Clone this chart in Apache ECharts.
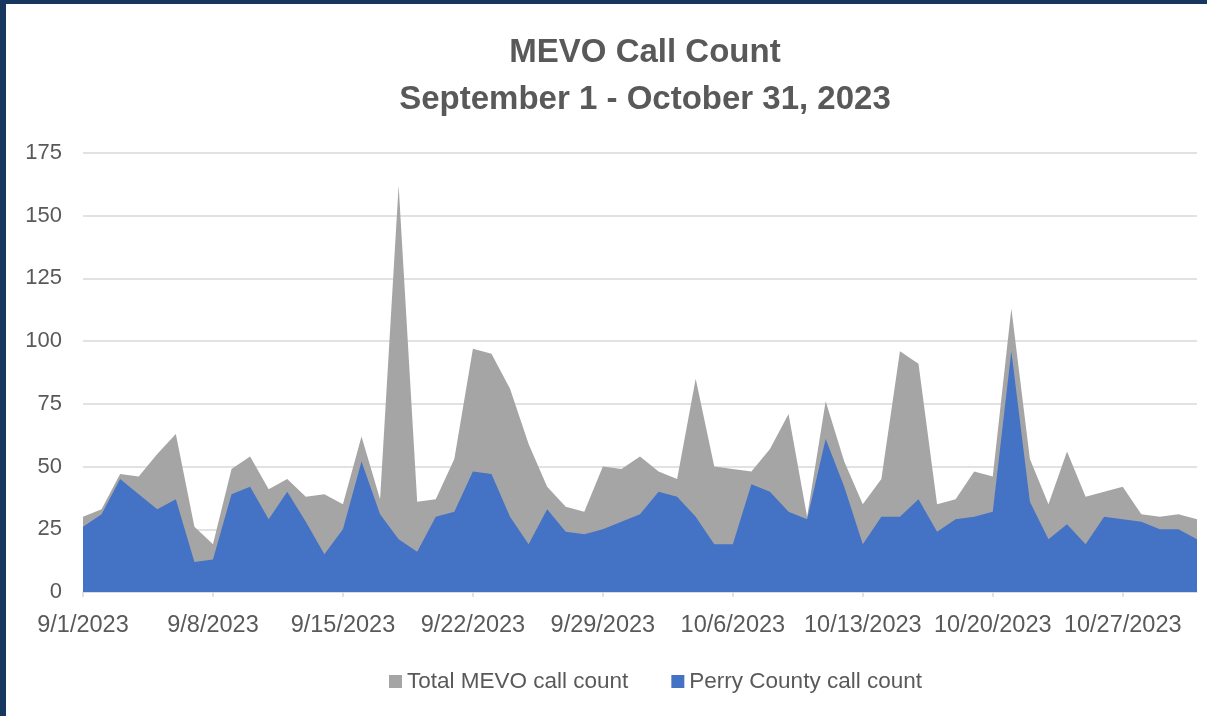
<!DOCTYPE html>
<html>
<head>
<meta charset="utf-8">
<title>MEVO Call Count</title>
<script src="https://cdn.jsdelivr.net/npm/echarts@6/dist/echarts.min.js"></script>
<style>
  html, body { margin: 0; padding: 0; background: #17375e; }
  #chart { position: absolute; left: 6px; top: 4px; width: 1201px; height: 712px; background: #fff; }
</style>
</head>
<body>
<div id="chart"></div>
<script>
// one label per day, 9/1 to 10/31
const dates = [
  '9/1/2023', '9/2/2023', '9/3/2023', '9/4/2023', '9/5/2023', '9/6/2023', '9/7/2023',
  '9/8/2023', '9/9/2023', '9/10/2023', '9/11/2023', '9/12/2023', '9/13/2023', '9/14/2023',
  '9/15/2023', '9/16/2023', '9/17/2023', '9/18/2023', '9/19/2023', '9/20/2023', '9/21/2023',
  '9/22/2023', '9/23/2023', '9/24/2023', '9/25/2023', '9/26/2023', '9/27/2023', '9/28/2023',
  '9/29/2023', '9/30/2023', '10/1/2023', '10/2/2023', '10/3/2023', '10/4/2023', '10/5/2023',
  '10/6/2023', '10/7/2023', '10/8/2023', '10/9/2023', '10/10/2023', '10/11/2023', '10/12/2023',
  '10/13/2023', '10/14/2023', '10/15/2023', '10/16/2023', '10/17/2023', '10/18/2023', '10/19/2023',
  '10/20/2023', '10/21/2023', '10/22/2023', '10/23/2023', '10/24/2023', '10/25/2023', '10/26/2023',
  '10/27/2023', '10/28/2023', '10/29/2023', '10/30/2023', '10/31/2023'
];

const totalCalls = [
  30, 33, 47, 46, 55, 63, 26, 19, 49, 54, 41, 45, 38, 39, 35, 62, 37, 162, 36, 37,
  53, 97, 95, 81, 59, 42, 34, 32, 50, 49, 54, 48, 45, 85, 50, 49, 48, 57, 71, 30,
  76, 52, 35, 45, 96, 91, 35, 37, 48, 46, 113, 53, 35, 56, 38, 40, 42, 31, 30, 31, 29
];

const perryCalls = [
  26, 31, 45, 39, 33, 37, 12, 13, 39, 42, 29, 40, 28, 15, 25, 52, 31, 21, 16, 30,
  32, 48, 47, 30, 19, 33, 24, 23, 25, 28, 31, 40, 38, 30, 19, 19, 43, 40, 32, 29,
  61, 42, 19, 30, 30, 37, 24, 29, 30, 32, 96, 36, 21, 27, 19, 30, 29, 28, 25, 25, 21
];

const yTicks = { min: 0, max: 175, step: 25 };

const textColor = '#595959';
const font = 'Liberation Sans, Arial, sans-serif';

const chart = echarts.init(document.getElementById('chart'), null, { renderer: 'canvas' });

function areaSeries(name, values, color) {
  return {
    name,
    type: 'line',
    data: values,
    showSymbol: false,
    symbol: 'none',
    lineStyle: { width: 0 },
    areaStyle: { color, opacity: 1 },
    itemStyle: { color },
    animation: false
  };
}

chart.setOption({
  backgroundColor: '#fff',
  textStyle: { fontFamily: font },
  title: {
    text: 'MEVO Call Count\nSeptember 1 - October 31, 2023',
    left: 634,
    top: 20,
    textAlign: 'center',
    textStyle: {
      fontFamily: font,
      fontSize: 33,
      fontWeight: 'bold',
      color: textColor,
      lineHeight: 47
    }
  },
  legend: {
    data: ['Total MEVO call count', 'Perry County call count'],
    top: 661,
    left: 378,
    itemWidth: 13,
    itemHeight: 13,
    itemGap: 43,
    icon: 'rect',
    textStyle: { fontFamily: font, fontSize: 22.5, color: textColor }
  },
  grid: { left: 77, right: 10, top: 149, bottom: 124, containLabel: false },
  xAxis: {
    type: 'category',
    data: dates,
    boundaryGap: false,
    axisLine: { lineStyle: { color: '#d9d9d9', width: 1.5 } },
    axisTick: { show: true, interval: 6, length: 5, lineStyle: { color: '#d9d9d9', width: 1.5 } },
    axisLabel: { interval: 6, margin: 22, fontSize: 23.5, color: textColor, fontFamily: font },
    splitLine: { show: false }
  },
  yAxis: {
    type: 'value',
    min: yTicks.min,
    max: yTicks.max,
    interval: yTicks.step,
    axisLine: { show: false },
    axisTick: { show: false },
    axisLabel: { margin: 21, fontSize: 22, color: textColor, fontFamily: font },
    splitLine: { lineStyle: { color: '#d9d9d9', width: 1.5 } }
  },
  series: [
    areaSeries('Total MEVO call count', totalCalls, '#a5a5a5'),
    areaSeries('Perry County call count', perryCalls, '#4472c4')
  ]
});
</script>
</body>
</html>
